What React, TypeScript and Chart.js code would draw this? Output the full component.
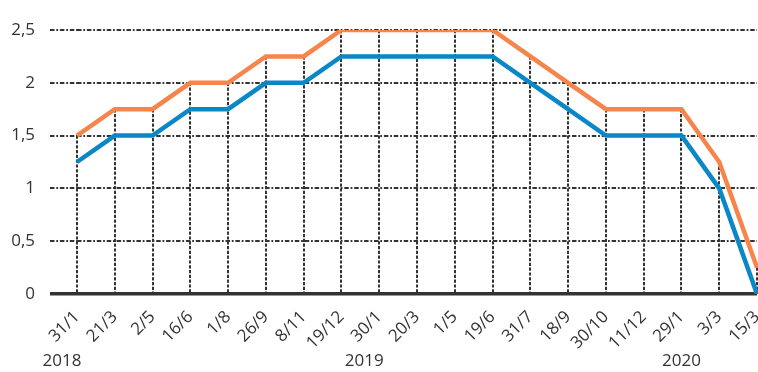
import React, { useEffect, useRef } from "react";
import { Chart, registerables } from "chart.js";

Chart.register(...registerables);

// Meeting dates (day/month), January 2018 – March 2020
const dates = [
  "31/1", "21/3", "2/5", "16/6", "1/8", "26/9", "8/11", "19/12",
  "30/1", "20/3", "1/5", "19/6", "31/7", "18/9", "30/10", "11/12",
  "29/1", "3/3", "15/3",
];

// Lower bound of the target range (%)
const lowerBound = [
  1.25, 1.5, 1.5, 1.75, 1.75, 2, 2, 2.25,
  2.25, 2.25, 2.25, 2.25, 2, 1.75, 1.5, 1.5,
  1.5, 1, 0,
];

// Upper bound of the target range (%)
const upperBound = [
  1.5, 1.75, 1.75, 2, 2, 2.25, 2.25, 2.5,
  2.5, 2.5, 2.5, 2.5, 2.25, 2, 1.75, 1.75,
  1.75, 1.25, 0.25,
];

const yTicks = [0, 0.5, 1, 1.5, 2, 2.5];

// Year captions shown under the date axis, anchored to a date
const years = ["2018", "2019", "2020"];
const yearAnchors = ["31/1", "30/1", "29/1"];
const yearShift = [-15, -15, 0];

const TEXT = "#333333";
const FONT = '"Open Sans", "Noto Sans", sans-serif';
const GRID_DASH = [4.5, 1.8, 1.8, 1.8];

// Dotted drop lines from each upper-bound point down to the axis
const dropLines = {
  id: "dropLines",
  beforeDatasetsDraw(chart: any) {
    const meta = chart.getDatasetMeta(0);
    const bottom = chart.scales.y.getPixelForValue(0);
    const ctx = chart.ctx;
    ctx.save();
    ctx.strokeStyle = TEXT;
    ctx.lineWidth = 2;
    ctx.setLineDash([3.2, 1.6]);
    meta.data.forEach((pt: any) => {
      const x = Math.round(pt.x);
      ctx.beginPath();
      ctx.moveTo(x, pt.y);
      ctx.lineTo(x, bottom);
      ctx.stroke();
    });
    ctx.restore();
  },
};

// Year captions below the rotated date labels
const yearCaptions = {
  id: "yearCaptions",
  afterDraw(chart: any) {
    const xs = chart.scales.x;
    const ctx = chart.ctx;
    ctx.save();
    ctx.font = `17px ${FONT}`;
    ctx.fillStyle = TEXT;
    ctx.textAlign = "center";
    ctx.textBaseline = "middle";
    years.forEach((yr, i) => {
      const idx = dates.indexOf(yearAnchors[i]);
      const x = xs.getPixelForValue(idx) + yearShift[i];
      ctx.fillText(yr, x, chart.chartArea.bottom + 67);
    });
    ctx.restore();
  },
};

const isZero = (c: any) => c.tick && c.tick.value === 0;

export default function App() {
  const ref = useRef<HTMLCanvasElement | null>(null);

  useEffect(() => {
    document.body.style.margin = "0";
    const canvas = ref.current;
    if (!canvas) return;
    const chart = new Chart(canvas, {
      type: "line",
      data: {
        labels: dates,
        datasets: [
          {
            label: "Upper",
            data: upperBound,
            borderColor: "#F5854A",
            borderWidth: 4.5,
            pointRadius: 0,
            tension: 0,
            fill: false,
          },
          {
            label: "Lower",
            data: lowerBound,
            borderColor: "#0A87C6",
            borderWidth: 4.5,
            pointRadius: 0,
            tension: 0,
            fill: false,
          },
        ],
      },
      options: {
        responsive: false,
        animation: false,
        devicePixelRatio: 1,
        layout: { padding: { top: 30, right: 1, left: 0, bottom: 0 } },
        plugins: {
          legend: { display: false },
          tooltip: { enabled: false },
        },
        scales: {
          x: {
            offset: false,
            grid: { display: false },
            border: { display: false },
            ticks: {
              autoSkip: false,
              minRotation: 45,
              maxRotation: 45,
              padding: 5,
              color: TEXT,
              font: { family: FONT, size: 17 },
            },
            afterFit(scale: any) {
              scale.height = 78;
              scale.paddingLeft = 0;
              scale.paddingRight = 0;
            },
          },
          y: {
            min: 0,
            max: 2.5,
            afterBuildTicks(scale: any) {
              scale.ticks = yTicks.map((v) => ({ value: v }));
            },
            grid: {
              color: TEXT,
              lineWidth: (c: any) => (isZero(c) ? 3.5 : 2),
              drawTicks: true,
              tickLength: 27,
              tickColor: TEXT,
              tickWidth: (c: any) => (isZero(c) ? 3.5 : 2),
              tickBorderDash: (c: any) => (isZero(c) ? [] : GRID_DASH),
            },
            border: {
              display: false,
              dash: (c: any) => (isZero(c) ? [] : GRID_DASH),
            },
            ticks: {
              padding: 15,
              color: TEXT,
              font: { family: FONT, size: 17 },
              callback: (v: any) => String(v).replace(".", ","),
            },
            afterFit(scale: any) {
              scale.width = 77;
            },
          },
        },
      },
      plugins: [dropLines, yearCaptions],
    });
    return () => chart.destroy();
  }, []);

  return (
    <div style={{ width: 758, height: 372 }}>
      <canvas ref={ref} width={758} height={372} style={{ display: "block" }} />
    </div>
  );
}
